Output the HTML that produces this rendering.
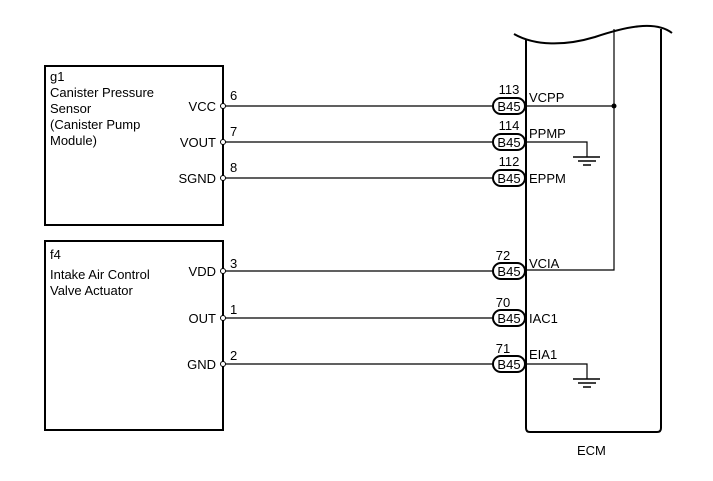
<html><body style="margin:0;background:#fff">
<svg width="713" height="481" xmlns="http://www.w3.org/2000/svg" font-family="Liberation Sans, sans-serif" font-size="13" fill="#000">
<g stroke="#000" fill="none">
<rect x="45" y="66" width="178" height="159" stroke-width="2"/>
<rect x="45" y="241" width="178" height="189" stroke-width="2"/>
<path d="M514,34 C535,46 565,46 595,37 C625,27 655,20 672,33" stroke-width="2"/>
<path d="M526,40 V428 Q526,432 530,432 H657 Q661,432 661,428 V29" stroke-width="2"/>
<path d="M614,29 V270 H526" stroke-width="1.2"/>
<g stroke-width="1.2">
<line x1="225" y1="106" x2="493" y2="106"/><line x1="526" y1="106" x2="614" y2="106"/>
<line x1="225" y1="142" x2="493" y2="142"/><path d="M526,142 H587 V157"/>
<line x1="225" y1="178" x2="493" y2="178"/>
<line x1="225" y1="271" x2="493" y2="271"/>
<line x1="225" y1="318" x2="493" y2="318"/>
<line x1="225" y1="364" x2="493" y2="364"/><path d="M526,364 H587 V379"/>
<path d="M573,157 H600 M578,161 H596 M583,165 H591" stroke-width="1.5"/>
<path d="M573,379 H600 M578,383 H596 M583,387 H591" stroke-width="1.5"/>
</g>
<g stroke-width="2" fill="#fff">
<rect x="493" y="98" width="32" height="16" rx="8"/>
<rect x="493" y="134" width="32" height="16" rx="8"/>
<rect x="493" y="170" width="32" height="16" rx="8"/>
<rect x="493" y="263" width="32" height="16" rx="8"/>
<rect x="493" y="310" width="32" height="16" rx="8"/>
<rect x="493" y="356" width="32" height="16" rx="8"/>
</g>
<g fill="#fff" stroke-width="1"><circle cx="223" cy="106" r="2.5"/><circle cx="223" cy="142" r="2.5"/><circle cx="223" cy="178" r="2.5"/><circle cx="223" cy="271" r="2.5"/><circle cx="223" cy="318" r="2.5"/><circle cx="223" cy="364" r="2.5"/></g>
</g>
<circle cx="614" cy="106" r="2.5"/>
<g>
<text x="509" y="111" text-anchor="middle">B45</text><text x="509" y="147" text-anchor="middle">B45</text><text x="509" y="183" text-anchor="middle">B45</text><text x="509" y="276" text-anchor="middle">B45</text><text x="509" y="323" text-anchor="middle">B45</text><text x="509" y="369" text-anchor="middle">B45</text>
<text x="509" y="94" text-anchor="middle">113</text><text x="509" y="130" text-anchor="middle">114</text><text x="509" y="166" text-anchor="middle">112</text><text x="503" y="260" text-anchor="middle">72</text><text x="503" y="307" text-anchor="middle">70</text><text x="503" y="353" text-anchor="middle">71</text>
<text x="529" y="102">VCPP</text><text x="529" y="138">PPMP</text><text x="529" y="183">EPPM</text><text x="529" y="268">VCIA</text><text x="529" y="323">IAC1</text><text x="529" y="359">EIA1</text>
<text x="577" y="455">ECM</text>
<text x="50" y="81">g1</text><text x="50" y="97">Canister Pressure</text><text x="50" y="113">Sensor</text><text x="50" y="129">(Canister Pump</text><text x="50" y="145">Module)</text>
<text x="50" y="259">f4</text><text x="50" y="279">Intake Air Control</text><text x="50" y="295">Valve Actuator</text>
<g text-anchor="end"><text x="216" y="111">VCC</text><text x="216" y="147">VOUT</text><text x="216" y="183">SGND</text><text x="216" y="276">VDD</text><text x="216" y="323">OUT</text><text x="216" y="369">GND</text></g>
<text x="230" y="100">6</text><text x="230" y="136">7</text><text x="230" y="172">8</text><text x="230" y="268">3</text><text x="230" y="314">1</text><text x="230" y="360">2</text>
</g>
</svg>
</body></html>
